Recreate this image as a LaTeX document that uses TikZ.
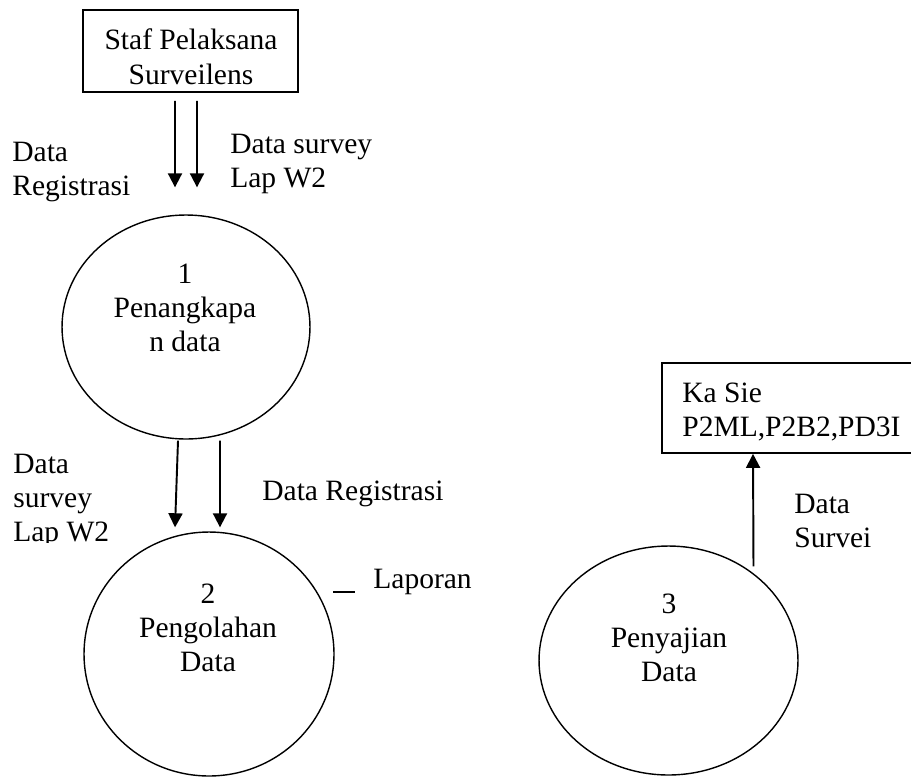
\documentclass[tikz,border=0pt]{standalone}
\usepackage{fontspec}
\setmainfont{Liberation Serif}
\usetikzlibrary{shapes.geometric,arrows.meta}

% stacked lines of text; the baseline is that of the first line
\newcommand{\txtrows}[2]{\begin{tabular}[t]{@{}#1@{}}#2\end{tabular}}

\begin{document}
\begin{tikzpicture}[x=0.02cm,y=-0.02cm,
  lbl/.style={inner sep=0pt,font=\fontsize{16.8pt}{19.6pt}\selectfont},
  extbox/.style={draw,line width=1pt,inner sep=0pt},
  proc/.style={draw,ellipse,line width=0.8pt,inner sep=0pt},
  flow/.style={line width=1.1pt,-{Triangle[length=8pt,width=8pt]}}]
\clip (0,0) rectangle (911,777);

% external entities
\node[extbox,minimum width=4.3cm,minimum height=1.64cm] (staf) at (190.5,51) {};
\node[lbl,anchor=base] (staftxt) at (191,50) {\txtrows{c}{Staf Pelaksana\\Surveilens}};

\node[extbox,minimum width=5.36cm,minimum height=1.8cm] (kasie) at (796,408) {};
\node[lbl,anchor=base west] (kasietxt) at (682,402) {\txtrows{l}{Ka Sie\\P2ML,P2B2,PD3I}};

% processes
\node[proc,minimum width=4.96cm,minimum height=4.48cm] (p1) at (186,327) {};
\node[lbl,anchor=base] (p1txt) at (185,283) {\txtrows{c}{1\\Penangkapa\\n data}};

\node[proc,minimum width=5.0cm,minimum height=4.88cm] (p2) at (209,654) {};
\node[lbl,anchor=base] (p2txt) at (208,603) {\txtrows{c}{2\\Pengolahan\\Data}};

\node[proc,minimum width=5.18cm,minimum height=4.58cm] (p3) at (668.5,660.5) {};
\node[lbl,anchor=base] (p3txt) at (669,613) {\txtrows{c}{3\\Penyajian\\Data}};

% flows: entity -> process 1
\draw[flow] ([xshift=-0.31cm,yshift=-0.16cm]staf.south) -- ([xshift=-0.22cm,yshift=0.54cm]p1.north);
\draw[flow] ([xshift=0.13cm,yshift=-0.16cm]staf.south) -- ([xshift=0.22cm,yshift=0.54cm]p1.north);
\node[lbl,anchor=base west] (l1) at (12,161) {\txtrows{l}{Data\\Registrasi}};
\node[lbl,anchor=base west] (l2) at (230,153) {\txtrows{l}{Data survey\\Lap W2}};

% flows: process 1 -> process 2
\draw[flow] ([xshift=-0.16cm,yshift=-0.02cm]p1.south) -- ([xshift=-0.68cm,yshift=0.08cm]p2.north);
\draw[flow] ([xshift=0.68cm,yshift=-0.02cm]p1.south) -- ([xshift=0.22cm,yshift=0.08cm]p2.north);
\begin{scope}
  \clip (0,400) rectangle (160,542);
  \node[lbl,anchor=base west] (l3) at (13,473) {\txtrows{l}{Data\\survey\\Lap W2}};
\end{scope}
\node[lbl,anchor=base west] (l4) at (262,500) {Data Registrasi};

% report output of process 2
\coordinate (dashL) at (333,592);
\coordinate (dashR) at (355,592);
\draw[line width=1pt] (dashL) -- (dashR);
\node[lbl,anchor=base west] (l5) at (373,588) {Laporan};

% flow: process 3 -> entity
\draw[flow] ([xshift=1.7cm,yshift=-0.42cm]p3.north) -- ([xshift=-0.86cm]kasie.south);
\node[lbl,anchor=base west] (l6) at (794,513) {\txtrows{l}{Data\\Survei}};
\end{tikzpicture}
\end{document}
